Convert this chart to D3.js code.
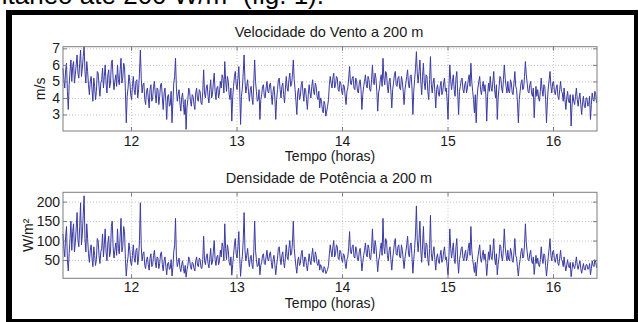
<!DOCTYPE html>
<html>
<head>
<meta charset="utf-8">
<script src="https://cdn.jsdelivr.net/npm/d3@7"></script>
<style>
  body { margin: 0; background: #fff; }
  svg text { font-family: "Liberation Sans", Arial, sans-serif; fill: #1a1a1a; }
  .grid line { stroke: #c4c4c4; stroke-dasharray: 1,2; }
  .grid path { display: none; }
  .axis path, .axis line { stroke: #7d7d7d; }
  .axis text { font-size: 14px; }
</style>
</head>
<body>
<svg id="chart" width="638" height="322"></svg>
<script>
// one reading every 30 s, starting a bit after 11:21
const startHour = 11.355;
const stepsPerHour = 120;

// wind speed at 200 m (m/s)
const windSpeed = [
  5.8,5.1, 4.6,5.7, 6.1,4.4, 3.3,4.8, 5.6,6.3, 5.0,5.9, 6.2,4.9, 5.4,6.0, 6.6,5.5, 5.2,6.1, 6.9,5.3, 5.8,6.5, 7.1,5.6, 4.9,6.2, 5.6,4.8, 4.2,5.0, 5.3,4.5, 3.8,5.2, 4.7,3.9, 4.4,5.6, 5.5,4.7, 4.1,4.9, 5.1,5.8, 4.6,5.3, 6.0,4.9, 4.3,5.4, 5.7,4.6, 4.9,6.1, 6.3,5.2, 4.5,5.0,
  5.4,4.7, 6.0,5.1, 4.8,5.7, 6.4,4.9, 5.2,6.1, 5.9,4.4, 2.5,4.1, 4.6,5.4, 5.0,4.2, 3.9,4.7, 5.3,4.5, 4.2,5.0, 5.1,4.0, 4.5,5.5, 6.9,5.2, 4.3,4.8, 4.9,3.9, 3.6,4.4, 4.6,4.0, 3.4,4.5, 4.8,3.8, 4.0,4.7, 5.0,4.2, 3.7,4.6, 4.5,3.6, 4.1,4.8, 4.9,4.0, 3.3,4.3, 4.6,3.8, 2.7,4.1,
  4.2,3.5, 3.6,4.4, 2.5,3.7, 4.9,5.3, 6.4,4.6, 3.8,4.2, 4.5,3.7, 3.2,4.0, 4.3,3.6, 3.0,3.9, 2.1,3.4, 3.9,4.6, 4.4,3.8, 3.5,4.2, 4.1,3.6, 3.3,4.3, 4.6,3.9, 3.8,4.5, 4.4,3.7, 3.6,4.4, 5.7,4.3, 4.0,4.6, 4.8,4.1, 3.7,4.5, 5.1,4.0, 4.2,4.9, 5.5,4.4, 3.9,4.6, 4.7,4.0, 4.3,5.0,
  4.6,5.4, 5.2,4.3, 6.2,5.1, 4.4,5.3, 5.0,4.2, 3.9,4.6, 2.6,4.0, 4.7,5.3, 5.6,4.8, 4.5,5.2, 5.9,4.6, 2.4,4.1, 4.6,5.5, 6.6,5.0, 4.3,4.7, 5.1,4.4, 3.8,4.5, 4.7,4.0, 3.6,4.9, 6.3,5.0, 4.4,3.8, 3.9,4.5, 2.7,3.9, 4.2,4.7, 4.8,4.1, 4.0,4.6, 5.0,4.4, 4.3,4.8, 4.9,4.2, 3.6,4.4,
  4.7,4.0, 2.7,3.9, 4.5,5.1, 5.2,4.5, 4.0,4.7, 4.9,4.2, 3.7,4.6, 5.3,4.6, 4.4,5.1, 5.5,4.7, 4.8,5.4, 6.3,5.1, 4.5,3.8, 3.0,4.3, 4.6,3.9, 4.1,4.8, 5.0,4.3, 3.8,4.6, 4.5,3.9, 3.3,4.2, 4.8,4.3, 4.0,4.7, 5.1,4.4, 4.2,4.9, 4.7,4.1, 3.9,4.4, 3.4,4.0, 3.8,3.3, 3.1,3.8, 3.6,2.9,
  3.2,3.5, 3.9,4.8, 5.3,4.9, 4.6,5.2, 5.5,4.6, 4.8,5.3, 5.2,4.5, 4.4,5.0, 4.9,4.4, 4.2,4.8, 4.7,4.1, 3.6,4.4, 4.6,5.2, 5.9,4.9, 4.8,5.2, 5.3,4.6, 4.5,5.2, 5.0,4.4, 4.3,4.9, 5.1,4.5, 3.3,4.2, 4.7,5.0, 5.4,4.8, 4.6,5.3, 5.1,4.5, 4.4,5.1, 6.0,5.0, 4.8,5.5, 5.2,4.4, 3.2,4.3,
  4.6,5.1, 5.4,4.7, 6.4,5.2, 4.8,5.6, 5.5,4.7, 4.3,5.0, 5.2,4.4, 3.4,4.5, 4.9,5.4, 5.6,4.8, 4.7,5.2, 5.3,4.6, 4.5,5.3, 5.0,4.4, 3.6,4.5, 4.9,5.3, 5.7,4.8, 4.6,5.3, 5.4,4.6, 3.0,4.4, 5.1,5.8, 6.8,5.5, 4.9,5.6, 6.3,5.0, 4.2,5.3, 6.1,4.9, 4.5,5.4, 5.3,4.4, 3.9,5.1, 6.5,4.8,
  4.3,4.9, 5.2,4.4, 3.4,4.5, 4.8,4.3, 4.1,4.7, 5.0,4.2, 4.4,4.9, 5.2,4.4, 4.6,3.8, 2.7,4.6, 6.0,5.1, 4.5,5.0, 5.4,4.5, 4.1,5.2, 5.6,4.3, 3.0,4.4, 4.7,5.1, 5.2,4.5, 4.3,4.8, 5.0,4.3, 4.6,5.1, 5.4,4.7, 6.1,5.0, 4.4,3.9, 3.1,4.2, 2.5,4.0, 4.6,5.0, 5.3,4.5, 4.2,4.7, 5.0,4.4,
  4.8,4.2, 2.6,4.1, 4.9,4.4, 5.3,4.6, 4.4,5.0, 5.6,4.5, 4.0,4.8, 2.7,4.0, 4.6,5.3, 5.2,4.6, 4.3,5.1, 6.0,5.2, 4.7,4.3, 5.0,4.4, 4.3,5.1, 4.9,4.3, 4.2,4.9, 5.6,4.7, 4.5,3.7, 2.5,3.9, 4.4,4.9, 5.1,4.5, 4.6,5.3, 6.2,5.4, 4.9,4.4, 4.3,4.8, 5.0,4.3, 4.1,4.6, 2.8,4.0, 4.7,4.1,
  4.5,4.0, 3.8,4.4, 5.2,4.5, 4.1,4.8, 4.7,3.9, 2.5,3.8, 4.6,5.1, 5.6,4.7, 4.3,4.9, 5.0,4.4, 4.2,4.6, 4.8,4.1, 3.9,4.5, 5.0,4.4, 4.3,3.8, 4.6,3.9, 3.3,4.0, 4.4,3.8, 3.7,4.2, 2.3,3.5, 4.2,3.8, 3.6,4.1, 4.6,3.9, 3.5,4.0, 4.3,3.6, 3.0,3.7, 4.1,3.5, 3.4,4.0, 4.0,3.5, 3.6,4.1,
  2.7,3.6, 4.3,3.9, 3.8,4.4, 4.2,3.7
];

// power density at 200 m (W/m2)
const powerDensity = [
  117,80, 58,111, 136,51, 22,66, 105,150, 75,123, 143,71, 94,130, 172,100, 84,136, 197,89, 117,165, 215,105, 71,143, 105,66, 44,75, 89,55, 33,84, 62,36, 51,105, 100,62, 41,71, 80,117, 58,89, 130,71, 48,94, 111,58, 71,136, 150,84, 55,75,
  94,62, 130,80, 66,111, 157,71, 84,136, 123,51, 9,41, 58,94, 75,44, 36,62, 89,55, 44,75, 80,38, 55,100, 197,84, 48,66, 71,36, 28,51, 58,38, 24,55, 66,33, 38,62, 75,44, 30,58, 55,28, 41,66, 71,38, 22,48, 58,33, 12,41,
  44,26, 28,51, 9,30, 71,89, 157,58, 33,44, 55,30, 20,38, 48,28, 16,36, 6,24, 36,58, 51,33, 26,44, 41,28, 22,48, 58,36, 33,55, 51,30, 28,51, 111,48, 38,58, 66,41, 30,55, 80,38, 44,71, 100,51, 36,58, 62,38, 48,75,
  58,94, 84,48, 143,80, 51,89, 75,44, 36,58, 11,38, 62,89, 105,66, 55,84, 123,58, 8,41, 58,100, 172,75, 48,62, 80,51, 33,55, 62,38, 28,71, 150,75, 51,33, 36,55, 12,36, 44,62, 66,41, 38,58, 75,51, 48,66, 71,44, 28,51,
  62,38, 12,36, 55,80, 84,55, 38,62, 71,44, 30,58, 89,58, 51,80, 100,62, 66,94, 150,80, 55,33, 16,48, 58,36, 41,66, 75,48, 33,58, 55,36, 22,44, 66,48, 38,62, 80,51, 44,71, 62,41, 36,51, 24,38, 33,22, 18,33, 28,15,
  20,26, 36,66, 89,71, 58,84, 100,58, 66,89, 84,55, 51,75, 71,51, 44,66, 62,41, 28,51, 58,84, 123,71, 66,84, 89,58, 55,84, 75,51, 48,71, 80,55, 22,44, 62,75, 94,66, 58,89, 80,55, 51,80, 130,75, 66,100, 84,51, 20,48,
  58,80, 94,62, 157,84, 66,105, 100,62, 48,75, 84,51, 24,55, 71,94, 105,66, 62,84, 89,58, 55,89, 75,51, 28,55, 71,89, 111,66, 58,89, 94,58, 16,51, 80,117, 189,100, 71,105, 150,75, 44,89, 136,71, 55,94, 89,51, 36,80, 165,66,
  48,71, 84,51, 24,55, 66,48, 41,62, 75,44, 51,71, 84,51, 58,33, 12,58, 130,80, 55,75, 94,55, 41,84, 105,48, 16,51, 62,80, 84,55, 48,66, 75,48, 58,80, 94,62, 136,75, 51,36, 18,44, 9,38, 58,75, 89,55, 44,62, 75,51,
  66,44, 10,41, 71,51, 89,58, 51,75, 105,55, 38,66, 12,38, 58,89, 84,58, 48,80, 130,84, 62,48, 75,51, 48,80, 71,48, 44,71, 105,62, 55,30, 9,36, 51,71, 80,55, 58,89, 143,94, 71,51, 48,66, 75,48, 41,58, 13,38, 62,41,
  55,38, 33,51, 84,55, 41,66, 62,36, 9,33, 58,80, 105,62, 48,71, 75,51, 44,58, 66,41, 36,55, 75,51, 48,33, 58,36, 22,38, 51,33, 30,44, 7,26, 44,33, 28,41, 58,36, 26,38, 48,28, 16,30, 41,26, 24,38, 38,26, 28,41,
  12,28, 48,36, 33,51, 44,30
];

const hourTicks = [12, 13, 14, 15, 16];
const speedTicks = [3, 4, 5, 6, 7];
const densityTicks = [50, 100, 150, 200];
const hourDomain = [11.355, 16.417];
const speedDomain = [2, 7.1];
const densityDomain = [3, 224];

const captionText = 'instantâneo até 200 W/m²  (fig. 1).';
const xLabel = 'Tempo (horas)';

const svg = d3.select('#chart');

// text of the page above the figure, cut off by the crop
svg.append('text')
    .attr('x', 324)
    .attr('y', 4)
    .attr('text-anchor', 'end')
    .style('font-size', '26px')
    .style('fill', '#000')
    .text(captionText);

// black frame around the figure
svg.append('rect')
    .attr('x', 6).attr('y', 10)
    .attr('width', 632).attr('height', 312)
    .attr('fill', '#000');
svg.append('rect')
    .attr('x', 12).attr('y', 15)
    .attr('width', 622).attr('height', 304)
    .attr('fill', '#fff');

const left = 63, right = 597;
const x = d3.scaleLinear().domain(hourDomain).range([left, right]);

function drawPanel(values, yDomain, yTicks, cfg) {
    const y = d3.scaleLinear().domain(yDomain).range([cfg.bottom, cfg.top]);
    const height = cfg.bottom - cfg.top;
    const width = right - left;

    // dotted grid
    svg.append('g')
        .attr('class', 'grid')
        .attr('transform', `translate(0,${cfg.bottom})`)
        .call(d3.axisBottom(x).tickValues(hourTicks).tickSize(-height).tickFormat(''));
    svg.append('g')
        .attr('class', 'grid')
        .attr('transform', `translate(${left},0)`)
        .call(d3.axisLeft(y).tickValues(yTicks).tickSize(-width).tickFormat(''));

    const points = values.map((v, i) => ({t: startHour + i / stepsPerHour, v: v}));
    const line = d3.line()
        .x(d => x(d.t))
        .y(d => y(d.v));

    svg.append('path')
        .datum(points)
        .attr('fill', 'none')
        .attr('stroke', '#3a3aa2')
        .attr('stroke-width', 1)
        .attr('stroke-linejoin', 'round')
        .attr('d', line);

    // box and inward ticks, matlab style
    svg.append('rect')
        .attr('x', left).attr('y', cfg.top)
        .attr('width', width).attr('height', height)
        .attr('fill', 'none')
        .attr('stroke', '#7d7d7d');

    svg.append('g')
        .attr('class', 'axis')
        .attr('transform', `translate(0,${cfg.bottom})`)
        .call(d3.axisBottom(x).tickValues(hourTicks).tickSize(-4).tickPadding(cfg.tickPad).tickFormat(d3.format('d')))
        .call(g => g.select('.domain').remove());
    svg.append('g')
        .attr('class', 'axis')
        .attr('transform', `translate(0,${cfg.top})`)
        .call(d3.axisTop(x).tickValues(hourTicks).tickSize(-4).tickFormat(''))
        .call(g => g.select('.domain').remove());
    svg.append('g')
        .attr('class', 'axis')
        .attr('transform', `translate(${left},0)`)
        .call(d3.axisLeft(y).tickValues(yTicks).tickSize(-4).tickPadding(3).tickFormat(d3.format('d')))
        .call(g => g.select('.domain').remove());
    svg.append('g')
        .attr('class', 'axis')
        .attr('transform', `translate(${right},0)`)
        .call(d3.axisRight(y).tickValues(yTicks).tickSize(-4).tickFormat(''))
        .call(g => g.select('.domain').remove());

    svg.append('text')
        .attr('x', 329)
        .attr('y', cfg.titleY)
        .attr('text-anchor', 'middle')
        .style('font-size', '14.5px')
        .text(cfg.title);

    svg.append('text')
        .attr('x', 330)
        .attr('y', cfg.xLabelY)
        .attr('text-anchor', 'middle')
        .style('font-size', '14px')
        .text(xLabel);

    svg.append('text')
        .attr('transform', `translate(${cfg.yLabelX},${(cfg.top + cfg.bottom) / 2}) rotate(-90)`)
        .attr('text-anchor', 'middle')
        .style('font-size', '14px')
        .text(cfg.yLabel);
}

drawPanel(windSpeed, speedDomain, speedTicks, {
    top: 46.7, bottom: 131,
    title: 'Velocidade do Vento a 200 m',
    titleY: 36.5, xLabelY: 160.5, tickPad: 5,
    yLabel: 'm/s', yLabelX: 45
});

drawPanel(powerDensity, densityDomain, densityTicks, {
    top: 192.3, bottom: 278.3,
    title: 'Densidade de Potência a 200 m',
    titleY: 183, xLabelY: 308, tickPad: 4,
    yLabel: 'W/m²', yLabelX: 33
});
</script>
</body>
</html>
